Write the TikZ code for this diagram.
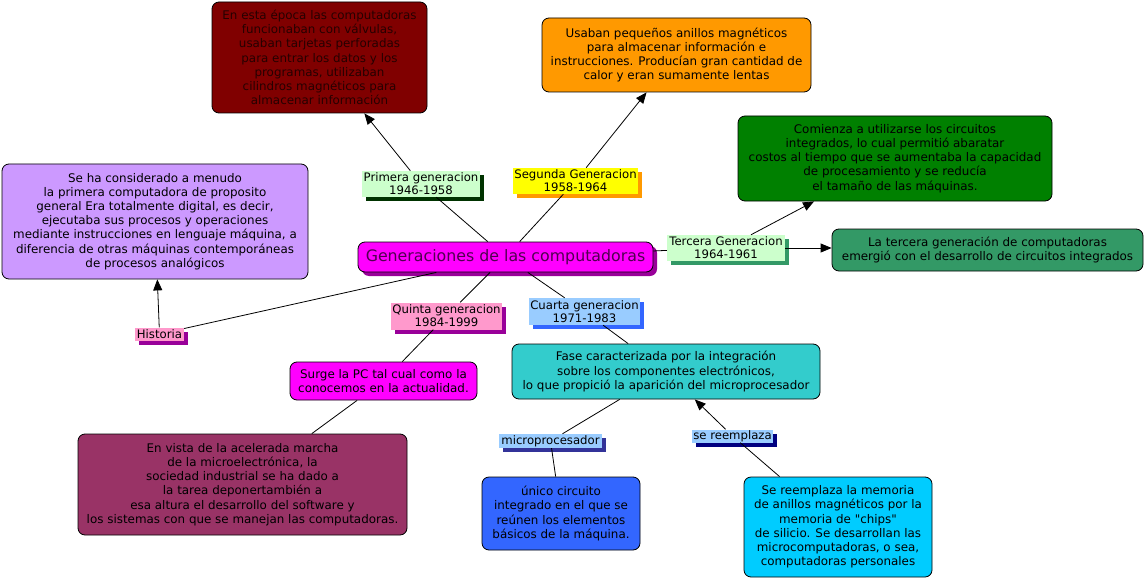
\documentclass[tikz,border=0pt]{standalone}
\usepackage{fontspec}
\setmainfont{DejaVu Sans}
\newfontfamily\plainq{DejaVu Sans}
\usetikzlibrary{arrows.meta,shadows}
\definecolor{cMaroon}{HTML}{800000}
\definecolor{cMaroonText}{HTML}{260000}
\definecolor{cOrange}{HTML}{FF9900}
\definecolor{cGreen}{HTML}{008000}
\definecolor{cSea}{HTML}{339966}
\definecolor{cLilac}{HTML}{CC99FF}
\definecolor{cMag}{HTML}{FF00FF}
\definecolor{cMagDark}{HTML}{990099}
\definecolor{cMagText}{HTML}{500050}
\definecolor{cPlum}{HTML}{993366}
\definecolor{cTeal}{HTML}{33CCCC}
\definecolor{cBlue}{HTML}{3366FF}
\definecolor{cCyan}{HTML}{00CCFF}
\definecolor{cPaleGreen}{HTML}{CCFFCC}
\definecolor{cDarkGreen}{HTML}{003300}
\definecolor{cYellow}{HTML}{FFFF00}
\definecolor{cPink}{HTML}{FF99CC}
\definecolor{cPaleBlue}{HTML}{99CCFF}
\definecolor{cNavy}{HTML}{333399}
\definecolor{cNavyB}{HTML}{000080}
\begin{document}
\begin{tikzpicture}[x=1pt,y=-1pt,
  concept/.style={draw=black, line width=0.8pt, rounded corners=7pt, align=center,
    inner sep=0pt, font=\fontsize{11.9}{14.2}\selectfont},
  linklab/.style 2 args={fill=#1, align=center, inner sep=0pt,
    font=\fontsize{11.7}{12.8}\selectfont,
    drop shadow={shadow xshift=4pt, shadow yshift=-4pt, fill=#2, opacity=1}},
  conn/.style={draw=black, line width=0.8pt},
  arr/.style={conn, -{Triangle[length=11pt,width=9pt]}}]
\useasboundingbox[fill=white] (0,0) rectangle (1147,580);

% concepts
\node[concept, fill=cMaroon, text=cMaroonText, minimum width=215pt, minimum height=111pt] (maroon) at (319.5,57.5)
  {En esta época las computadoras\\funcionaban con válvulas,\\usaban tarjetas perforadas\\para entrar los datos y los\\programas, utilizaban\\cilindros magnéticos para\\almacenar información};
\node[concept, fill=cOrange, minimum width=269pt, minimum height=74pt] (orange) at (676.5,55)
  {Usaban pequeños anillos magnéticos\\para almacenar información e\\instrucciones. Producían gran cantidad de\\calor y eran sumamente lentas};
\node[concept, fill=cGreen, minimum width=314pt, minimum height=85pt] (green) at (895,158.5)
  {Comienza a utilizarse los circuitos\\integrados, lo cual permitió abaratar\\costos al tiempo que se aumentaba la capacidad\\de procesamiento y se reducía\\el tamaño de las máquinas.};
\node[concept, fill=cSea, minimum width=311pt, minimum height=42pt] (sea) at (987.5,250)
  {La tercera generación de computadoras\\emergió con el desarrollo de circuitos integrados};
\node[concept, fill=cLilac, minimum width=306pt, minimum height=115pt] (lilac) at (155,221.5)
  {Se ha considerado a menudo\\la primera computadora de proposito\\general Era totalmente digital, es decir,\\ejecutaba sus procesos y operaciones\\mediante instrucciones en lenguaje máquina, a\\diferencia de otras máquinas contemporáneas\\de procesos analógicos};
\node[concept, fill=cMag, text=cMagText, font=\fontsize{15.8}{18}\selectfont,
  minimum width=295pt, minimum height=30pt,
  drop shadow={shadow xshift=4pt, shadow yshift=-4pt, fill=cMagDark, opacity=1}] (central) at (505.5,257)
  {Generaciones de las computadoras};
\node[concept, fill=cMag, minimum width=187pt, minimum height=38pt] (surge) at (383.5,381)
  {Surge la PC tal cual como la\\conocemos en la actualidad.};
\node[concept, fill=cPlum, minimum width=329pt, minimum height=101pt] (envista) at (242.5,484.5)
  {En vista de la acelerada marcha\\de la microelectrónica, la\\sociedad industrial se ha dado a\\la tarea deponertambién a\\esa altura el desarrollo del software y\\los sistemas con que se manejan las computadoras.};
\node[concept, fill=cTeal, minimum width=308pt, minimum height=55pt] (fase) at (666,371.5)
  {Fase caracterizada por la integración\\sobre los componentes electrónicos,\\lo que propició la aparición del microprocesador};
\node[concept, fill=cBlue, minimum width=158pt, minimum height=73pt] (unico) at (561,513.5)
  {único circuito\\integrado en el que se\\reúnen los elementos\\básicos de la máquina.};
\node[concept, fill=cCyan, minimum width=188pt, minimum height=100pt] (cyan) at (838,527)
  {Se reemplaza la memoria\\de anillos magnéticos por la\\memoria de {\plainq "chips"}\\de silicio. Se desarrollan las\\microcomputadoras, o sea,\\computadoras personales};

% linking phrases
\node[linklab={cPaleGreen}{cDarkGreen}, minimum width=118pt, minimum height=26pt] (primera) at (421,184)
  {Primera generacion\\1946-1958};
\node[linklab={cYellow}{cOrange}, minimum width=125pt, minimum height=26pt] (segunda) at (575.5,181)
  {Segunda Generacion\\1958-1964};
\node[linklab={cPaleGreen}{cSea}, minimum width=118pt, minimum height=26pt] (tercera) at (726,248)
  {Tercera Generacion\\1964-1961};
\node[linklab={cPink}{cMagDark}, minimum width=111pt, minimum height=27pt] (quinta) at (446.5,316)
  {Quinta generacion\\1984-1999};
\node[linklab={cPaleBlue}{cBlue}, minimum width=111pt, minimum height=27pt] (cuarta) at (584.5,311.5)
  {Cuarta generacion\\1971-1983};
\node[linklab={cPink}{cMagDark}, minimum width=49pt, minimum height=13pt] (historia) at (159.5,334)
  {Historia};
\node[linklab={cPaleBlue}{cNavy}, minimum width=103pt, minimum height=14pt] (micro) at (550.5,441)
  {microprocesador};
\node[linklab={cPaleBlue}{cNavyB}, minimum width=81pt, minimum height=13pt] (reemp) at (732.5,436)
  {se reemplaza};

% connectors
\draw[conn] (central) -- (primera);
\draw[arr] (primera) -- (maroon);
\draw[conn] (central) -- (segunda);
\draw[arr] (segunda) -- (orange);
\draw[conn] (central) -- (tercera);
\draw[arr] (tercera) -- (green);
\draw[arr] (tercera.east) -- (sea.west |- tercera.east);
\draw[conn] (central) -- (historia);
\draw[arr] (historia) -- (lilac);
\draw[conn] (central) -- (quinta);
\draw[conn] (quinta) -- (surge);
\draw[conn] (surge) -- (envista);
\draw[conn] (central) -- (cuarta);
\draw[conn] (cuarta) -- (fase);
\draw[conn] (fase) -- (micro);
\draw[conn] (micro) -- (unico);
\draw[arr] (reemp) -- (fase);
\draw[conn] (cyan) -- (reemp);
\end{tikzpicture}
\end{document}
